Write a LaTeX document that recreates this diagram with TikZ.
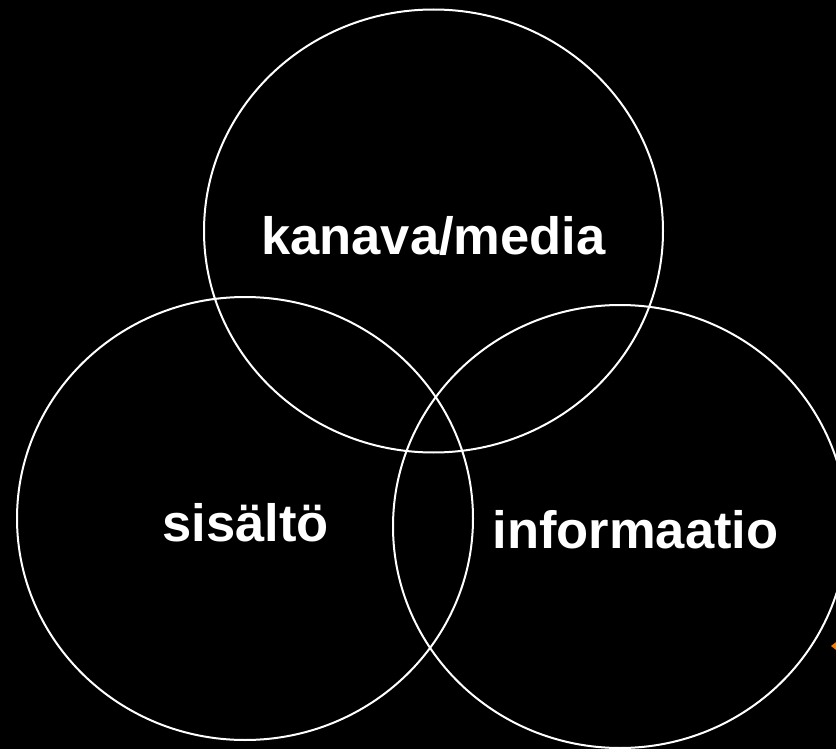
\documentclass[tikz,border=0pt]{standalone}
\usepackage{fontspec}
\setmainfont{Liberation Sans}
\usepackage{xcolor}
\usetikzlibrary{positioning}

\definecolor{vennorange}{RGB}{240,125,0}
\tikzset{
  venn/.style={draw=white, line width=1.5},
  vennlabel/.style={text=white, font=\fontsize{39.4}{46}\selectfont\bfseries, inner sep=0pt}
}

\begin{document}
\begin{tikzpicture}[x=0.75pt,y=0.75pt,yscale=-1,xscale=1]
%set diagram frame 836 x 749
\useasboundingbox (0,0) rectangle (836,749);
\fill[black] (0,0) rectangle (836,749);
\clip (0,0) rectangle (836,749);

%Shape: Ellipse [kanava]
\coordinate (kanava) at (433.5,231);
\draw[venn] (kanava) ellipse [x radius=229.5, y radius=221.5];
%Shape: Ellipse [sisalto]
\coordinate (sisalto) at (245,518.5);
\draw[venn] (sisalto) ellipse [x radius=228, y radius=221.5];
%Shape: Ellipse [informaatio]
\coordinate (informaatio) at (620,526.5);
\draw[venn] (informaatio) ellipse [x radius=227, y radius=221.5];

%Shape: Triangle [marker]
\fill[vennorange] (831,646) -- (840,639) -- (840,653) -- cycle;

% Text Node
\node[vennlabel] (kanavalabel) at (433.5,236) {kanava/media};
% Text Node
\node[vennlabel] (sisaltolabel) at (245.5,523) {sisältö};
% Text Node
\node[vennlabel] (informaatiolabel) at (635.5,530) {informaatio};

\end{tikzpicture}
\end{document}
